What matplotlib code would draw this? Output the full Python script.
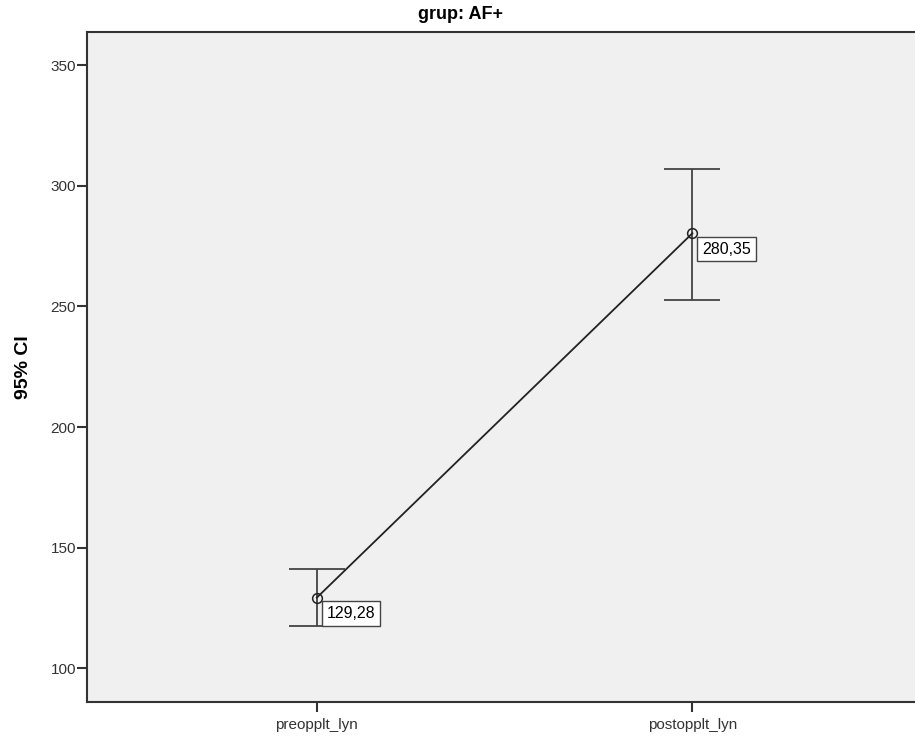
import numpy as np
import matplotlib.pyplot as plt

plt.rcParams['font.family'] = ['Liberation Sans', 'DejaVu Sans']

# mean and 95% CI per measurement
categories = ['preopplt_lyn', 'postopplt_lyn']
means = [129.28, 280.35]
ci_low = [117.4, 252.8]
ci_high = [141.0, 306.9]
mean_labels = ['129,28', '280,35']

fig = plt.figure(figsize=(9.15, 7.42), dpi=100)
ax = fig.add_axes([87 / 915, 40 / 742, 830 / 915, 670 / 742])
ax.set_facecolor('#f0f0f0')

x = np.arange(1, len(categories) + 1)
means = np.array(means)
yerr = [means - np.array(ci_low), np.array(ci_high) - means]

ax.errorbar(x, means, yerr=yerr, fmt='none', ecolor='#444444',
            elinewidth=1.3, capsize=20.5, capthick=1.3, zorder=2)
ax.plot(x, means, color='#222222', lw=1.3, zorder=3)
ax.plot(x, means, 'o', mfc='none', mec='#222222', ms=7, mew=1.1, zorder=4)

for xi, yi, lab in zip(x, means, mean_labels):
    ax.annotate(lab, (xi, yi), xytext=(7, -6), textcoords='offset points',
                ha='left', va='top', fontsize=11.5, color='black',
                bbox=dict(boxstyle='square,pad=0.3', fc='white', ec='#444444', lw=1))

ax.set_xlim(0.388, 2.598)
ax.set_ylim(86.0, 363.8)
ax.set_xticks(x)
ax.set_xticklabels(categories)
ax.set_yticks([100, 150, 200, 250, 300, 350])

for side in ['left', 'bottom', 'top']:
    ax.spines[side].set_color('#333333')
    ax.spines[side].set_linewidth(1.5)
ax.spines['right'].set_visible(False)
ax.tick_params(direction='out', width=1.5, color='#333333',
               labelsize=11, labelcolor='#333333')
ax.tick_params(axis='y', length=7, pad=1)
ax.tick_params(axis='x', length=7.5, pad=4)

ax.set_ylabel('95% CI', fontsize=14, fontweight='bold', labelpad=13)
fig.text(461 / 915, 1 - 19 / 742, 'grup: AF+', ha='center', va='baseline',
         fontsize=13, fontweight='bold')

fig.savefig('out.png', dpi=100)
